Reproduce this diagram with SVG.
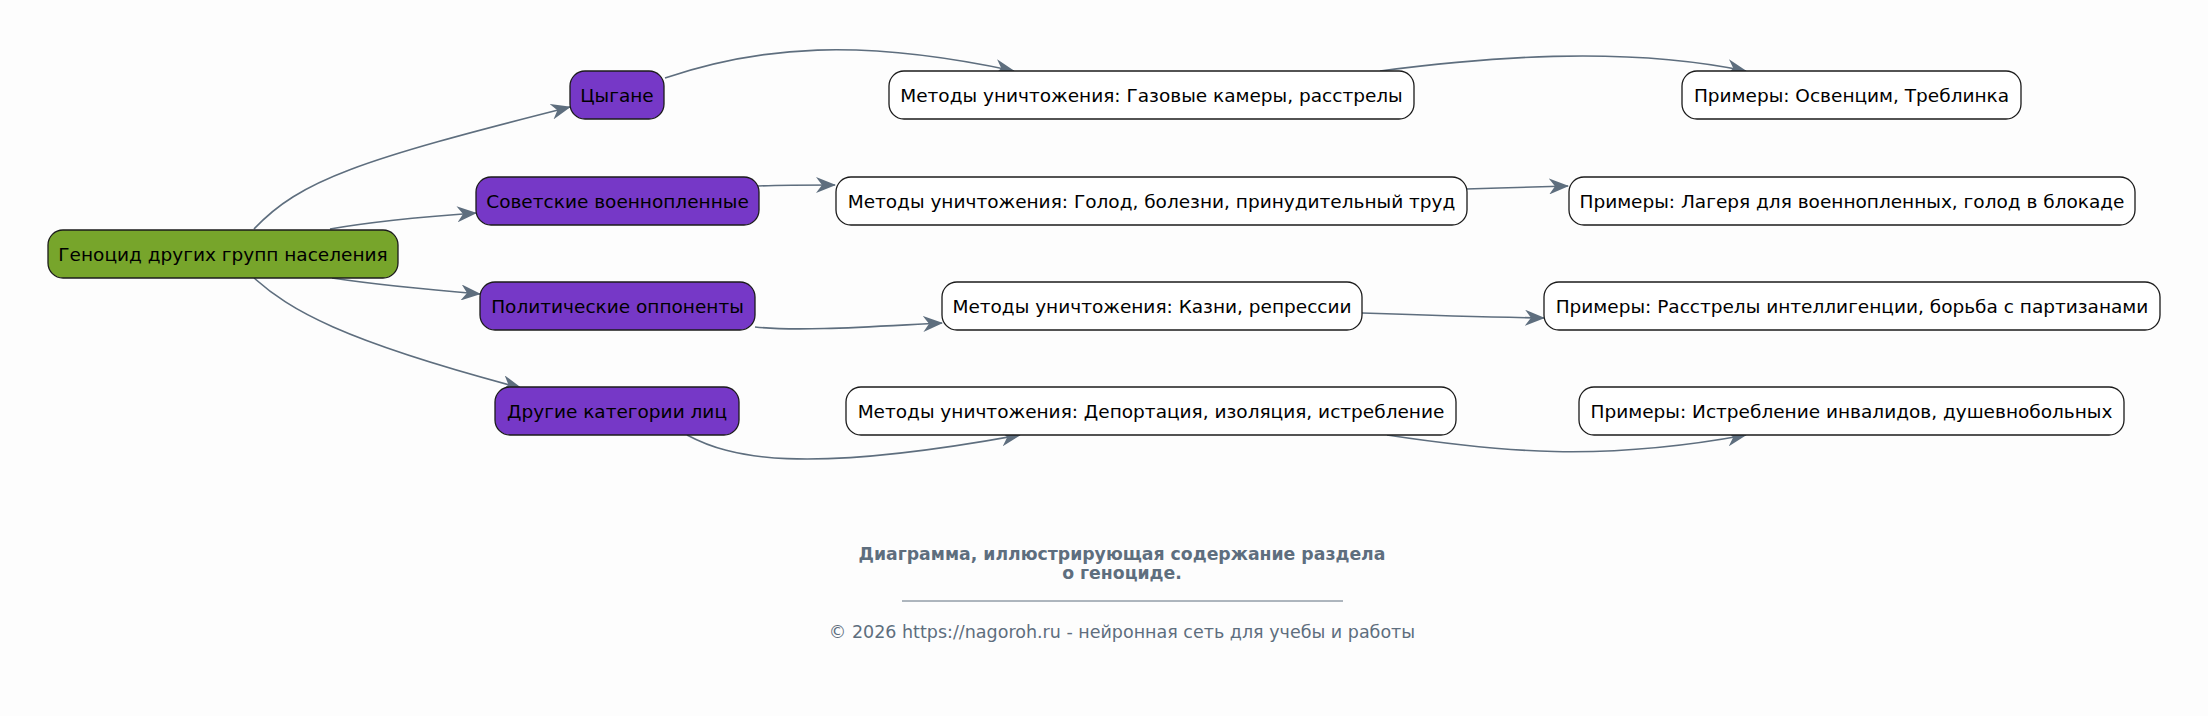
<svg xmlns="http://www.w3.org/2000/svg" width="2208" height="716" viewBox="0 0 2208 716">
<defs>
<style>
.n rect{stroke:#1b1b1b;stroke-width:1.3}
.root rect{fill:#77a52b}
.cat rect{fill:#7638c7}
.leaf rect{fill:#ffffff}
.n text{font-family:"DejaVu Sans",sans-serif;font-size:18.5px;fill:#000;text-anchor:middle;dominant-baseline:central}
#edges path{fill:none;stroke:#5e6e7e;stroke-width:1.6;marker-end:url(#ah)}
.ft{font-family:"DejaVu Sans",sans-serif;fill:#5e6e7e;text-anchor:middle}
</style>
<marker id="ah" viewBox="0 0 20 16" refX="19" refY="8" markerWidth="20" markerHeight="16" markerUnits="userSpaceOnUse" orient="auto">
<path d="M0,0 L20,8 L0,16 L6,8 z" fill="#5e6e7e"/>
</marker>
</defs>
<rect width="2208" height="716" fill="#fdfdfd"/>
<g id="edges">
<path d="M254,229 C300,180 360,160 570,107"/>
<path d="M330,229 C370,222 420,217 476,213"/>
<path d="M332,278 C372,284 420,289 480,294"/>
<path d="M254,278 C290,310 340,340 521,388"/>
<path d="M665,78 C760,46 860,38 1014,71"/>
<path d="M1380,71 C1480,58 1620,45 1746,71"/>
<path d="M758,186 C780,185 800,185 835,185"/>
<path d="M1466,189 C1500,188 1530,187 1568,186"/>
<path d="M755,327 C800,332 880,326 942,323"/>
<path d="M1362,313 C1420,315 1480,317 1544,318"/>
<path d="M687,435 C730,458 800,475 1020,435"/>
<path d="M1387,435 C1500,452 1600,462 1746,435"/>
</g>
<g id="root" class="n root"><rect x="48" y="230" width="350" height="48" rx="15"/><text x="223" y="254">Геноцид других групп населения</text></g>
<g id="roma" class="n cat"><rect x="570" y="71" width="94" height="48" rx="15"/><text x="617" y="95">Цыгане</text></g>
<g id="pow" class="n cat"><rect x="476" y="177" width="283" height="48" rx="15"/><text x="617.5" y="201">Советские военнопленные</text></g>
<g id="pol" class="n cat"><rect x="480" y="282" width="275" height="48" rx="15"/><text x="617.5" y="306">Политические оппоненты</text></g>
<g id="other" class="n cat"><rect x="495" y="387" width="244" height="48" rx="15"/><text x="617" y="411">Другие категории лиц</text></g>
<g id="m1" class="n leaf"><rect x="889" y="71" width="525" height="48" rx="15"/><text x="1151.5" y="95">Методы уничтожения: Газовые камеры, расстрелы</text></g>
<g id="m2" class="n leaf"><rect x="836" y="177" width="631" height="48" rx="15"/><text x="1151.5" y="201">Методы уничтожения: Голод, болезни, принудительный труд</text></g>
<g id="m3" class="n leaf"><rect x="942" y="282" width="420" height="48" rx="15"/><text x="1152" y="306">Методы уничтожения: Казни, репрессии</text></g>
<g id="m4" class="n leaf"><rect x="846" y="387" width="610" height="48" rx="15"/><text x="1151" y="411">Методы уничтожения: Депортация, изоляция, истребление</text></g>
<g id="e1" class="n leaf"><rect x="1682" y="71" width="339" height="48" rx="15"/><text x="1851.5" y="95">Примеры: Освенцим, Треблинка</text></g>
<g id="e2" class="n leaf"><rect x="1569" y="177" width="566" height="48" rx="15"/><text x="1852" y="201">Примеры: Лагеря для военнопленных, голод в блокаде</text></g>
<g id="e3" class="n leaf"><rect x="1544" y="282" width="616" height="48" rx="15"/><text x="1852" y="306">Примеры: Расстрелы интеллигенции, борьба с партизанами</text></g>
<g id="e4" class="n leaf"><rect x="1579" y="387" width="545" height="48" rx="15"/><text x="1851.5" y="411">Примеры: Истребление инвалидов, душевнобольных</text></g>
<g id="footer">
<text class="ft" x="1122" y="560" font-size="17.3" font-weight="bold">Диаграмма, иллюстрирующая содержание раздела</text>
<text class="ft" x="1122" y="579" font-size="17.3" font-weight="bold">о геноциде.</text>
<line x1="902" y1="601" x2="1343" y2="601" stroke="#5e6e7e" stroke-width="1"/>
<text class="ft" x="1122" y="638" font-size="17.5">© 2026 https://nagoroh.ru - нейронная сеть для учебы и работы</text>
</g>
</svg>
